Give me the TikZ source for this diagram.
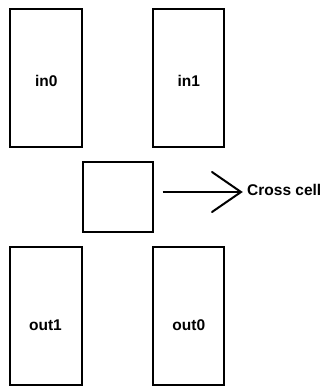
\documentclass[tikz,border=0pt]{standalone}
\usepackage{fontspec}
\setmainfont{Liberation Sans}
\usetikzlibrary{calc}
\begin{document}
\begin{tikzpicture}[x=1bp,y=-1bp,
  box/.style={draw=black,line width=2bp,fill=white},
  lbl/.style={font=\fontsize{15.5bp}{18bp}\selectfont\bfseries,inner sep=0pt,anchor=base},
  barb/.style={line width=2bp,line cap=round}]
  \useasboundingbox (0,0) rectangle (331,388);
  % memory blocks
  \draw[box] (10,9) rectangle (82,147);
  \draw[box] (153,9) rectangle (224,147);
  \draw[box] (10,247) rectangle (82,385);
  \draw[box] (153,247) rectangle (224,385);
  \node[lbl] (in0) at (46.3,86) {in0};
  \node[lbl] (in1) at (188.8,86) {in1};
  \node[lbl] (out1) at (45.5,330) {out1};
  \node[lbl] (out0) at (188.8,330) {out0};
  % the crossing cell
  \node[box,minimum width=70bp,minimum height=70bp,inner sep=0pt] (cell) at (118,197) {};
  \node[lbl,anchor=base west] (cap) at (247,195.7) {Cross cell};
  \coordinate (tip) at (241,192);
  \coordinate (tail) at (162.5,192);
  % pointer with an open, straight-armed head
  \draw[line width=2bp] (tail) -- (tip);
  \draw[barb] ($(tip)+(-29,-20)$) -- (tip) -- ++(-29,20);
\end{tikzpicture}
\end{document}
